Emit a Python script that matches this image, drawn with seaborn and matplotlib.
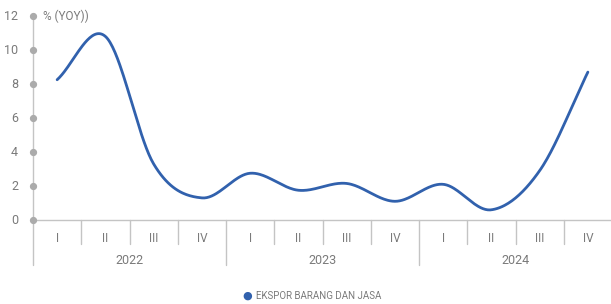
import numpy as np
import pandas as pd
import matplotlib
matplotlib.use("Agg")
import matplotlib.pyplot as plt
import matplotlib.transforms as mtransforms
import seaborn as sns

# ---- data ----
years = ["2022", "2023", "2024"]
quarters = ["I", "II", "III", "IV"]
ekspor = [8.25, 10.8, 3.3, 1.3,
          2.75, 1.75, 2.15, 1.1,
          2.1, 0.6, 2.9, 8.7]
y_ticks = [0, 2, 4, 6, 8, 10, 12]
y_label = "% (YOY))"
series_name = "EKSPOR BARANG DAN JASA"

LINE = "#3161ad"
GRID = "#c4c4c4"
DOT = "#ababab"
TXT = "#7a7a7a"

sns.set_theme(style="white")
plt.rcParams["font.family"] = ["Roboto", "DejaVu Sans"]

fig = plt.figure(figsize=(6.11, 3.04), dpi=100)
W, H = 611, 304
x0, x1 = 33, 612
ytop, ybot = 16, 220
ax = fig.add_axes([x0 / W, (H - ybot) / H, (x1 - x0) / W, (ybot - ytop) / H])

n = len(ekspor)
xs = np.arange(n, dtype=float)
ys = np.array(ekspor, dtype=float)

# smooth (cardinal / Catmull-Rom) rendering of the line through the data points
m = np.zeros(n)
m[1:-1] = (ys[2:] - ys[:-2]) / 2
m[0] = ys[1] - ys[0]
m[-1] = ys[-1] - ys[-2]
sx, sy = [], []
for i in range(n - 1):
    t = np.linspace(0, 1, 40, endpoint=(i == n - 2))
    h00 = 2 * t**3 - 3 * t**2 + 1
    h10 = t**3 - 2 * t**2 + t
    h01 = -2 * t**3 + 3 * t**2
    h11 = t**3 - t**2
    sx.extend(xs[i] + t)
    sy.extend(h00 * ys[i] + h10 * m[i] + h01 * ys[i + 1] + h11 * m[i + 1])
df = pd.DataFrame({"x": sx, "y": sy})
sns.lineplot(data=df, x="x", y="y", ax=ax, color=LINE, linewidth=2.0,
             sort=False, legend=False)

ax.set_xlim(-0.5, n - 0.5)
ax.set_ylim(0, 12)
for s in ax.spines.values():
    s.set_visible(False)
ax.set_xticks([])
ax.set_yticks([])
ax.set_xlabel("")
ax.set_ylabel("")

trans_ax = ax.transAxes
# y axis line extending below
ax.plot([0, 0], [1, -45 / (ybot - ytop)], transform=trans_ax, color=GRID,
        lw=1.0, clip_on=False, zorder=1)
# x axis baseline
ax.plot([0, 1], [0, 0], transform=trans_ax, color=GRID, lw=1.0,
        clip_on=False, zorder=1)
# y tick dots and labels
blend = mtransforms.blended_transform_factory(ax.transAxes, ax.transData)
for v in y_ticks:
    ax.plot([0], [v], marker="o", ms=4.2, color=DOT, transform=blend,
            clip_on=False, zorder=3)
    ax.text(-15 / (x1 - x0), v, str(v), transform=blend, ha="right",
            va="center", fontsize=9, color=TXT)
ax.text(10 / (x1 - x0), 12, y_label, transform=blend, ha="left",
        va="center", fontsize=8.5, color=TXT)

# category separators and labels
blend_x = mtransforms.blended_transform_factory(ax.transData, ax.transAxes)
ph = ybot - ytop
for k in range(1, n + 1):
    xb = k - 0.5
    depth = 45 if k % 4 == 0 else 24
    ax.plot([xb, xb], [0, -depth / ph], transform=blend_x, color=GRID,
            lw=1.0, clip_on=False, zorder=1)
for i in range(n):
    ax.text(i, -18 / ph, quarters[i % 4], transform=blend_x, ha="center",
            va="center", fontsize=8.5, color=TXT)
for j, yr in enumerate(years):
    ax.text(j * 4 + 1.5, -41 / ph, yr, transform=blend_x, ha="center",
            va="center", fontsize=9, color=TXT)

# legend
fig.text(247 / W, 1 - 296 / H, "\u25cf", color=LINE, fontsize=8,
         ha="center", va="center", family=["DejaVu Sans"])
fig.text(256 / W, 1 - 296 / H, series_name, color=TXT, fontsize=7,
         ha="left", va="center")

fig.savefig("out.png", dpi=100)
